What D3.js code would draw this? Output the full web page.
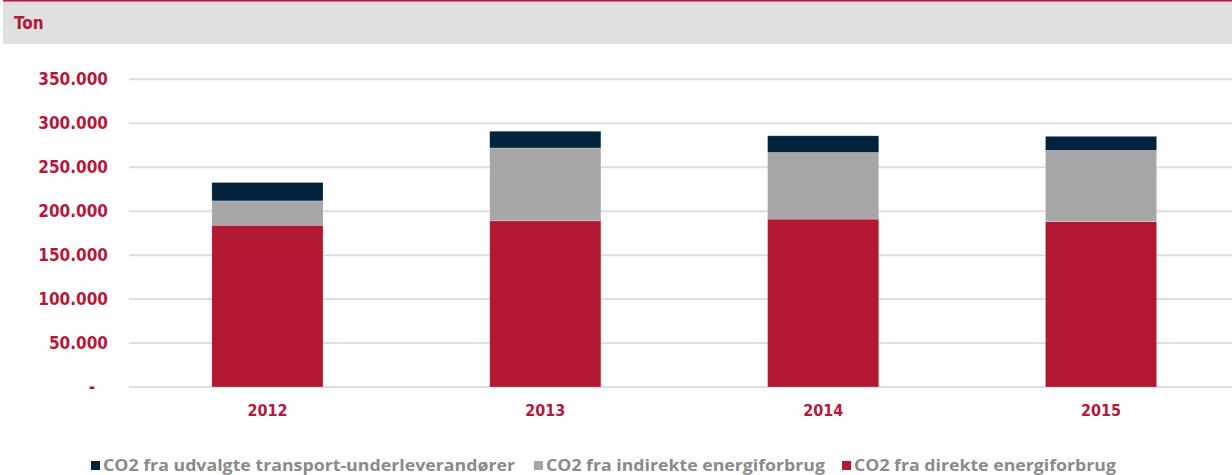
<!DOCTYPE html>
<html>
<head>
<meta charset="utf-8">
<script src="https://cdn.jsdelivr.net/npm/d3@7"></script>
<style>
  html, body { margin: 0; padding: 0; background: #fff; }
  svg { display: block; }
</style>
</head>
<body>
<svg id="chart" width="1232" height="475"></svg>
<script>
// ---- data ----
const years = ["2012", "2013", "2014", "2015"];
const direct = [184000, 189000, 191000, 188000];
const indirect = [27700, 82900, 75800, 81200];
const transport = [20900, 19000, 18900, 15900];
const seriesNames = [
  "CO2 fra direkte energiforbrug",
  "CO2 fra indirekte energiforbrug",
  "CO2 fra udvalgte transport-underleverandører"
];
const yTicks = [0, 50000, 100000, 150000, 200000, 250000, 300000, 350000];
const yTickLabels = ["-", "50.000", "100.000", "150.000", "200.000", "250.000", "300.000", "350.000"];
const unitLabel = "Ton";

// ---- styling ----
const colors = ["#b31832", "#a6a6a6", "#00233d"];
const labelRed = "#b5183a";
const svg = d3.select("#chart");
const W = 1232;

// header band
svg.append("rect").attr("x", 3).attr("y", 1).attr("width", W - 3).attr("height", 43).attr("fill", "#e0e0e0");
svg.append("rect").attr("x", 3).attr("y", 0).attr("width", W - 3).attr("height", 1.5).attr("fill", "#c0163a");
svg.append("text").attr("x", 14).attr("y", 29)
  .attr("font-family", "DejaVu Sans Condensed, DejaVu Sans").attr("font-weight", "bold")
  .attr("font-size", 17).attr("fill", labelRed).text(unitLabel);

// scales
const x = d3.scaleBand().domain(years).range([128.5, 1240]).paddingInner(0.6).paddingOuter(0.3);
const y = d3.scaleLinear().domain([0, 350000]).range([387, 79.3]);

// gridlines
svg.append("g").selectAll("line").data(yTicks).join("line")
  .attr("x1", 129).attr("x2", W)
  .attr("y1", d => y(d)).attr("y2", d => y(d))
  .attr("stroke", "#dedede").attr("stroke-width", 2);

// y labels
svg.append("g").selectAll("text").data(yTicks).join("text")
  .attr("x", (d, i) => i === 0 ? 95 : 108)
  .attr("y", d => y(d) + 6)
  .attr("text-anchor", "end")
  .attr("font-family", "DejaVu Sans Condensed, DejaVu Sans").attr("font-weight", "bold")
  .attr("font-size", 17).attr("fill", labelRed)
  .text((d, i) => yTickLabels[i]);

// stacked bars
const rows = years.map((yr, i) => ({ year: yr, a: direct[i], b: indirect[i], c: transport[i] }));
const stack = d3.stack().keys(["a", "b", "c"])(rows);
svg.append("g").selectAll("g").data(stack).join("g")
  .attr("fill", (d, i) => colors[i])
  .selectAll("rect").data(d => d).join("rect")
  .attr("x", d => x(d.data.year))
  .attr("width", x.bandwidth())
  .attr("y", d => y(d[1]))
  .attr("height", d => y(d[0]) - y(d[1]))
  .attr("stroke", "rgba(255,255,255,0.35)").attr("stroke-width", 0.6);

// x labels
svg.append("g").selectAll("text").data(years).join("text")
  .attr("x", d => x(d) + x.bandwidth() / 2)
  .attr("y", 416)
  .attr("text-anchor", "middle")
  .attr("font-family", "DejaVu Sans Condensed, DejaVu Sans").attr("font-weight", "bold")
  .attr("font-size", 16).attr("fill", labelRed)
  .text(d => d);

// legend (order: transport, indirect, direct)
const legendItems = [
  { name: seriesNames[2], color: colors[2], x: 91, w: 412 },
  { name: seriesNames[1], color: colors[1], x: 534, w: 279 },
  { name: seriesNames[0], color: colors[0], x: 842, w: 262 }
];
const lg = svg.append("g").selectAll("g").data(legendItems).join("g");
lg.append("rect").attr("x", d => d.x).attr("y", 461).attr("width", 9).attr("height", 9).attr("fill", d => d.color);
lg.append("text").attr("x", d => d.x + 12).attr("y", 470.5)
  .attr("font-family", "Open Sans, sans-serif").attr("font-weight", "bold")
  .attr("font-size", 16).attr("fill", "#8a8a8a")
  .attr("textLength", d => d.w).attr("lengthAdjust", "spacingAndGlyphs")
  .text(d => d.name);
</script>
</body>
</html>
